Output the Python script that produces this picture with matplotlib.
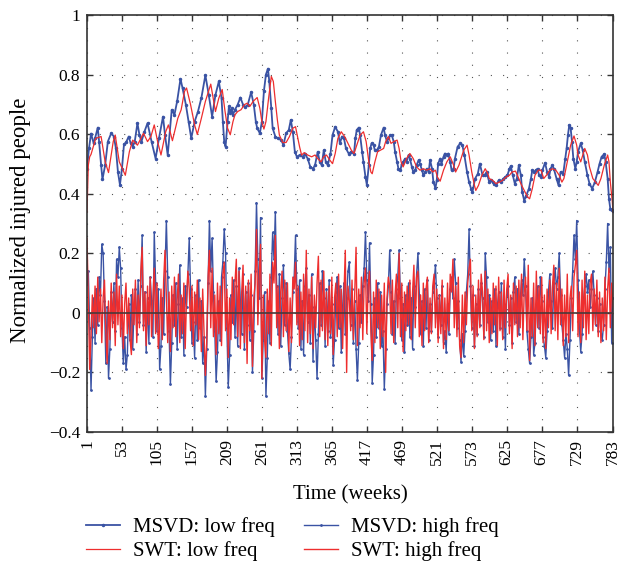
import matplotlib
matplotlib.use("Agg")
import matplotlib.pyplot as plt
import numpy as np

plt.rcParams['font.family'] = ['Liberation Serif', 'DejaVu Serif']

# low frequency components (week, value)
msvd_low_weeks = [1, 4, 7, 11, 13, 17, 19, 22, 24, 28, 32, 37, 41, 44, 47, 50, 53, 56, 59, 63, 66, 69, 72, 76, 79, 82, 86, 91, 97, 103, 108, 114, 117, 121, 127, 131, 135, 140, 143, 148, 152, 156, 161, 166, 171, 177, 182, 187, 192, 197,
                  201, 203, 205, 207, 210, 212, 214, 216, 218, 221, 225, 229, 233, 236, 240, 245, 249, 252, 254, 258, 261, 264, 267, 270, 272, 275, 277, 281, 285, 290, 293, 297, 301, 304, 307, 310, 313, 317, 322, 325, 329, 333, 337, 340, 344, 347, 350, 353, 356, 359, 363, 366, 370, 374, 377, 380, 383, 386, 390, 394,
                  398, 400, 402, 405, 407, 410, 412, 415, 417, 420, 422, 424, 427, 429, 432, 435, 438, 442, 444, 447, 449, 452, 454, 457, 459, 462, 464, 467, 469, 471, 474, 476, 479, 481, 484, 486, 489, 491, 494, 496, 499, 501, 504, 506, 509, 511, 514, 516, 519, 521, 523, 526, 528, 531, 533, 536, 538, 541, 543, 546, 548, 552, 556, 559, 562, 566, 569, 572, 574, 578, 582, 585, 589, 592, 595,
                  599, 601, 604, 606, 609, 613, 616, 620, 623, 626, 629, 631, 634, 637, 640, 643, 646, 648, 651, 654, 658, 661, 663, 666, 668, 671, 673, 676, 678, 682, 685, 688, 690, 693, 695, 699, 702, 705, 709, 712, 714, 716, 718, 720, 722, 724, 727, 729, 731, 735, 738, 741, 745, 748, 752, 756, 760, 763, 766, 770, 772, 775, 777, 779, 782, 783]
msvd_low = [0.484, 0.552, 0.602, 0.569, 0.586, 0.622, 0.575, 0.496, 0.448, 0.496, 0.575, 0.603, 0.592, 0.552, 0.473, 0.430, 0.484, 0.566, 0.572, 0.592, 0.569, 0.558, 0.575, 0.637, 0.597, 0.575, 0.606, 0.637, 0.575, 0.518, 0.586, 0.659, 0.597, 0.530, 0.682, 0.665, 0.710, 0.786, 0.755, 0.699, 0.642, 0.586, 0.642, 0.676, 0.721, 0.798, 0.732, 0.659, 0.732, 0.777,
            0.721, 0.642, 0.575, 0.558, 0.642, 0.693, 0.670, 0.687, 0.665, 0.682, 0.699, 0.723, 0.699, 0.690, 0.699, 0.741, 0.699, 0.642, 0.620, 0.603, 0.642, 0.744, 0.800, 0.820, 0.777, 0.687, 0.620, 0.592, 0.586, 0.580, 0.563, 0.603, 0.614, 0.648, 0.608, 0.541, 0.524, 0.530, 0.524, 0.535, 0.518, 0.490, 0.484, 0.496, 0.541, 0.507, 0.496, 0.546, 0.507, 0.496, 0.535, 0.597, 0.625, 0.608, 0.569, 0.592, 0.586, 0.552, 0.535, 0.541,
            0.535, 0.586, 0.614, 0.622, 0.597, 0.541, 0.507, 0.456, 0.430, 0.496, 0.552, 0.569, 0.563, 0.546, 0.546, 0.558, 0.597, 0.622, 0.597, 0.575, 0.586, 0.597, 0.597, 0.575, 0.541, 0.507, 0.484, 0.479, 0.501, 0.507, 0.518, 0.507, 0.530, 0.518, 0.490, 0.473, 0.479, 0.496, 0.513, 0.501, 0.479, 0.462, 0.473, 0.484, 0.473, 0.513, 0.484, 0.439, 0.419, 0.445, 0.501, 0.518, 0.501, 0.524, 0.535, 0.530, 0.535, 0.507, 0.479, 0.484, 0.518, 0.558, 0.569, 0.563, 0.530, 0.473, 0.439, 0.417, 0.406, 0.451, 0.467, 0.501, 0.462, 0.462, 0.473,
            0.439, 0.445, 0.439, 0.434, 0.428, 0.445, 0.439, 0.451, 0.456, 0.462, 0.484, 0.493, 0.462, 0.434, 0.451, 0.496, 0.462, 0.406, 0.377, 0.394, 0.417, 0.451, 0.479, 0.473, 0.479, 0.484, 0.462, 0.456, 0.479, 0.504, 0.473, 0.456, 0.484, 0.496, 0.484, 0.451, 0.428, 0.473, 0.467, 0.518, 0.552, 0.597, 0.631, 0.620, 0.575, 0.518, 0.484, 0.507, 0.541, 0.569, 0.546, 0.507, 0.462, 0.434, 0.417, 0.439, 0.473, 0.501, 0.524, 0.533, 0.507, 0.451, 0.383, 0.349, 0.347, 0.343]

swt_low_weeks = [1, 3, 5, 7, 14, 22, 28, 33, 40, 43, 49, 58, 64, 69, 76, 85, 91, 96, 101, 106, 111, 118, 122, 128, 136, 141, 146, 149, 155, 161, 165, 171, 177, 185, 192, 197, 202, 206, 210, 214,
                 218, 221, 225, 230, 235, 239, 243, 248, 254, 258, 261, 264, 267, 271, 275, 278, 281, 284, 287, 292, 297, 302, 307, 311, 314, 317, 320, 324, 329, 335, 340, 344, 349, 353, 357, 362, 366, 370, 374, 379, 384, 389, 394, 398,
                 402, 407, 412, 416, 420, 423, 425, 429, 433, 437, 442, 445, 449, 453, 457, 462, 465, 468, 471, 476, 481, 486, 491, 496, 501, 506, 511, 515, 519, 522, 526, 531, 536, 541, 546, 549, 554, 561, 566, 569, 573, 577, 579, 583, 588, 593, 597,
                 599, 604, 609, 614, 619, 624, 629, 633, 638, 642, 646, 651, 656, 659, 663, 667, 672, 676, 680, 684, 689, 693, 698, 703, 707, 710, 715, 720, 725, 729, 731, 735, 738, 741, 745, 748, 753, 761, 765, 770, 775, 777, 779, 782, 783]
swt_low = [0.338, 0.496, 0.524, 0.532, 0.586, 0.592, 0.507, 0.471, 0.575, 0.597, 0.507, 0.462, 0.541, 0.580, 0.563, 0.603, 0.575, 0.592, 0.631, 0.575, 0.530, 0.608, 0.631, 0.578, 0.653, 0.682, 0.744, 0.755, 0.699, 0.631, 0.599, 0.653, 0.710, 0.768, 0.676, 0.721, 0.750, 0.680, 0.620, 0.598,
           0.642, 0.665, 0.676, 0.682, 0.699, 0.704, 0.693, 0.710, 0.723, 0.687, 0.642, 0.617, 0.642, 0.721, 0.794, 0.777, 0.710, 0.648, 0.597, 0.572, 0.572, 0.592, 0.620, 0.625, 0.592, 0.558, 0.530, 0.538, 0.530, 0.524, 0.530, 0.518, 0.507, 0.524, 0.530, 0.513, 0.501, 0.535, 0.586, 0.608, 0.592, 0.569, 0.546, 0.535,
           0.563, 0.597, 0.608, 0.575, 0.507, 0.473, 0.467, 0.507, 0.541, 0.546, 0.552, 0.575, 0.592, 0.569, 0.575, 0.580, 0.552, 0.507, 0.490, 0.518, 0.535, 0.518, 0.490, 0.479, 0.484, 0.479, 0.484, 0.473, 0.479, 0.456, 0.442, 0.479, 0.507, 0.524, 0.496, 0.473, 0.496, 0.546, 0.563, 0.530, 0.473, 0.428, 0.411, 0.428, 0.462, 0.484, 0.467,
           0.451, 0.445, 0.434, 0.439, 0.445, 0.456, 0.462, 0.473, 0.476, 0.456, 0.434, 0.411, 0.389, 0.383, 0.417, 0.462, 0.479, 0.479, 0.451, 0.462, 0.479, 0.484, 0.479, 0.462, 0.439, 0.451, 0.507, 0.563, 0.594, 0.563, 0.530, 0.507, 0.530, 0.552, 0.530, 0.490, 0.451, 0.428, 0.451, 0.496, 0.530, 0.507, 0.439, 0.372, 0.338]

# high frequency components, one value every second week (weeks 1, 3, ..., 783)
msvd_high = [0.10, 0.14, -0.05, -0.26, -0.08, 0.05, -0.10, 0.08, -0.04, 0.12, 0.06, 0.23, 0.20, 0.04, -0.17, 0.02, -0.22, -0.12, 0.07, -0.03,
             0.10, -0.06, 0.18, 0.12, 0.22, 0.15, -0.05, -0.17, -0.08, -0.19, -0.14, 0.03, -0.09, 0.06, -0.12, 0.02, 0.08, -0.07, 0.11, -0.03,
             0.09, 0.26, -0.04, 0.07, -0.13, 0.05, -0.10, 0.12, 0.04, -0.08, 0.27, 0.10, -0.06, 0.08, -0.19, -0.11, 0.05, -0.07, 0.14, 0.31,
             0.12, -0.06, -0.24, -0.10, 0.06, -0.04, 0.10, -0.12, 0.03, 0.16, -0.08, 0.05, -0.14, 0.09, 0.02, 0.13, 0.25, 0.08, -0.10, -0.03,
             -0.15, 0.06, -0.09, 0.11, -0.05, 0.04, -0.17, -0.08, -0.28, -0.12, 0.10, 0.31, 0.14, 0.25, 0.07, -0.06, -0.23, -0.13, 0.04, -0.09,
             0.12, 0.17, 0.28, 0.20, -0.05, -0.25, -0.14, 0.06, -0.03, 0.11, -0.08, 0.09, -0.11, 0.15, 0.04, -0.07, 0.13, -0.12, 0.07, -0.04,
             0.10, -0.09, 0.06, -0.20, -0.06, 0.14, 0.37, 0.18, 0.05, 0.32, -0.22, -0.09, 0.07, -0.28, -0.15, 0.04, -0.10, 0.12, 0.27, 0.18,
             0.34, 0.09, -0.07, 0.13, -0.11, 0.05, 0.16, -0.04, 0.10, -0.06, -0.135, -0.19, -0.08, 0.07, 0.12, 0.26, 0.08, -0.05, 0.11, -0.12,
             0.04, -0.14, 0.09, 0.15, -0.03, 0.06, -0.10, 0.13, -0.16, 0.02, -0.09, -0.22, -0.07, 0.10, -0.04, 0.14, 0.05, -0.11, 0.08, -0.06,
             0.11, -0.08, 0.03, -0.175, -0.09, 0.07, 0.12, -0.05, 0.09, -0.13, 0.02, 0.10, -0.07, 0.05, 0.14, 0.17, -0.04, 0.08, -0.10, 0.04,
             -0.12, -0.225, -0.10, 0.06, -0.03, 0.09, 0.15, 0.27, 0.11, 0.04, 0.235, 0.03, -0.235, -0.14, 0.05, -0.08, 0.10, -0.05, 0.07, -0.11,
             -0.06, -0.255, -0.12, 0.03, 0.09, 0.21, 0.07, -0.07, 0.04, -0.10, 0.08, 0.12, 0.21, 0.05, -0.09, 0.03, -0.13, 0.06, -0.04, 0.10,
             -0.08, 0.05, -0.12, 0.09, 0.02, 0.13, 0.20, 0.06, -0.07, 0.04, -0.11, 0.08, -0.05, 0.11, -0.09, 0.03, -0.06, 0.07, 0.10, 0.16,
             0.05, -0.08, 0.06, -0.04, 0.09, -0.10, -0.06, -0.13, 0.03, -0.07, 0.08, 0.12, 0.05, 0.18, 0.10, -0.05, 0.04, -0.09, -0.165, -0.07,
             -0.145, -0.06, 0.07, 0.13, 0.28, 0.09, -0.05, 0.06, -0.11, 0.03, -0.07, 0.08, -0.04, 0.10, 0.05, -0.08, 0.20, 0.12, -0.03, 0.06,
             -0.09, 0.04, -0.06, 0.08, -0.11, 0.02, 0.07, -0.05, 0.10, -0.08, 0.03, -0.12, 0.06, 0.09, -0.04, 0.05, -0.10, 0.07, 0.12, -0.03,
             0.08, -0.07, 0.04, 0.11, 0.06, 0.18, 0.09, -0.06, -0.12, -0.17, -0.08, 0.05, -0.14, -0.10, 0.03, 0.09, -0.05, 0.12, 0.04, -0.08,
             -0.11, -0.15, -0.06, 0.07, 0.13, 0.04, -0.05, 0.10, 0.15, 0.08, 0.12, 0.20, 0.06, -0.04, -0.09, -0.15, -0.07, -0.12, -0.21, -0.09,
             0.05, 0.14, 0.26, 0.18, 0.31, 0.11, -0.05, -0.13, -0.07, 0.04, 0.09, 0.13, 0.07, 0.11, 0.02, 0.08, 0.14, 0.06, -0.04, 0.05,
             -0.06, 0.03, -0.07, -0.09, -0.04, 0.08, 0.17, 0.30, 0.14, 0.22, -0.10, 0.05]

swt_high = [0.25, 0.05, -0.19, -0.08, 0.06, -0.05, 0.09, -0.07, 0.12, -0.03, 0.08, -0.10, 0.05, 0.11, -0.06, -0.17, 0.04, -0.09, 0.10, -0.05,
            0.07, -0.11, 0.13, -0.04, 0.09, -0.08, 0.06, -0.12, 0.03, 0.10, -0.07, 0.05, -0.09, -0.14, 0.08, -0.04, 0.11, -0.10, 0.06, -0.05,
            0.14, 0.22, -0.06, 0.07, -0.11, 0.09, -0.04, 0.12, -0.08, 0.05, 0.15, -0.07, 0.10, -0.12, -0.05, 0.08, -0.09, 0.11, 0.21, 0.06,
            -0.10, 0.07, -0.13, 0.09, -0.05, 0.12, -0.08, 0.04, 0.13, -0.10, 0.06, -0.07, 0.10, -0.12, 0.05, 0.14, 0.08, -0.06, 0.09, -0.11,
            0.07, -0.04, 0.11, -0.09, 0.05, -0.13, 0.08, -0.06, -0.21, -0.10, 0.12, 0.21, -0.05, 0.15, -0.08, 0.06, -0.14, 0.10, -0.07, 0.09,
            -0.11, 0.13, 0.17, -0.06, 0.08, -0.15, 0.05, -0.09, 0.12, -0.04, 0.10, 0.18, -0.08, 0.14, -0.12, 0.07, 0.16, -0.10, 0.09, -0.17,
            0.11, -0.06, 0.13, -0.18, 0.05, 0.10, 0.28, -0.04, 0.12, 0.23, -0.22, 0.06, -0.09, -0.15, 0.08, -0.07, 0.13, -0.11, 0.17, 0.10,
            0.26, -0.05, 0.09, -0.12, 0.07, 0.14, -0.08, 0.11, -0.06, 0.10, -0.13, 0.05, -0.10, 0.12, 0.08, 0.17, -0.04, 0.09, -0.11, 0.07,
            -0.09, 0.13, -0.06, 0.21, -0.10, 0.08, -0.07, 0.12, -0.12, 0.06, -0.05, 0.10, 0.19, -0.08, 0.11, -0.06, 0.14, -0.09, 0.07, -0.11,
            0.09, -0.07, 0.12, -0.14, 0.05, 0.10, -0.08, 0.13, -0.05, 0.08, -0.12, 0.06, 0.21, -0.20, 0.09, 0.04, -0.06, 0.11, -0.09, 0.07,
            0.22, -0.11, 0.08, -0.05, 0.12, -0.09, 0.10, 0.15, -0.07, 0.09, 0.14, -0.06, -0.16, 0.07, -0.10, 0.11, -0.05, 0.08, -0.12, 0.06,
            -0.08, 0.10, -0.20, 0.05, 0.12, 0.09, -0.07, 0.11, -0.10, 0.06, 0.13, -0.05, 0.20, -0.08, 0.10, -0.13, 0.07, -0.06, 0.09, -0.04,
            0.11, -0.09, 0.07, 0.16, -0.05, 0.12, 0.14, -0.08, 0.06, -0.11, 0.10, -0.06, 0.08, 0.12, -0.10, 0.05, -0.07, 0.09, 0.13, -0.05,
            0.08, -0.10, 0.06, -0.07, 0.11, -0.12, 0.05, -0.09, 0.10, -0.06, 0.13, 0.07, 0.18, -0.05, 0.09, -0.08, 0.12, -0.11, -0.15, 0.06,
            -0.10, 0.07, -0.04, 0.10, 0.15, 0.18, -0.06, 0.09, -0.12, 0.06, -0.08, 0.11, -0.05, 0.13, 0.07, -0.09, 0.14, -0.06, 0.08, -0.10,
            0.05, -0.07, 0.10, -0.04, 0.09, -0.11, 0.12, -0.06, 0.07, -0.09, 0.11, -0.05, 0.08, 0.13, -0.07, 0.06, -0.12, 0.10, -0.04, 0.09,
            -0.08, 0.11, -0.05, 0.13, -0.09, 0.07, 0.12, -0.06, 0.16, -0.16, 0.05, -0.08, 0.10, -0.11, 0.14, -0.05, 0.09, -0.07, 0.12, -0.10,
            0.06, -0.12, 0.08, -0.05, 0.11, -0.07, 0.09, 0.16, -0.06, 0.10, -0.09, 0.15, -0.04, 0.08, -0.11, 0.06, -0.08, 0.13, -0.10, 0.05,
            0.09, -0.06, 0.12, 0.16, 0.21, -0.08, 0.07, -0.10, 0.11, -0.05, 0.14, -0.09, 0.06, -0.07, 0.10, 0.13, -0.06, 0.08, -0.04, 0.11,
            -0.08, 0.07, -0.10, 0.05, -0.06, 0.12, -0.09, 0.08, 0.15, -0.05, 0.10, 0.02]

xticks = [1, 53, 105, 157, 209, 261, 313, 365, 417, 469, 521, 573, 625, 677, 729, 783]
yticks = [-0.4, -0.2, 0, 0.2, 0.4, 0.6, 0.8, 1]
ytick_labels = ['\u22120.4', '\u22120.2', '0', '0.2', '0.4', '0.6', '0.8', '1']

blue = '#3a53a4'
red = '#ee2e2e'

fig = plt.figure(figsize=(6.24, 5.67), dpi=100)
ax = fig.add_axes([0.1394, 0.2381, 0.8430, 0.7354])

wk_mh = 1 + 2 * np.arange(len(msvd_high))
wk_sh = 1 + 2 * np.arange(len(swt_high))

ax.plot(msvd_low_weeks, msvd_low, color=blue, lw=1.3, marker='.', ms=3, label='MSVD: low freq')
ax.plot(swt_low_weeks, swt_low, color=red, lw=0.9, label='SWT: low freq')
ax.plot(wk_mh, msvd_high, color=blue, lw=1.0, marker='.', ms=2, label='MSVD: high freq')
ax.plot(wk_sh, swt_high, color=red, lw=1.0, label='SWT: high freq')
ax.axhline(0, color='#4a3a3a', lw=1.2, zorder=5)

ax.set_xlim(1, 783)
ax.set_ylim(-0.4, 1)
ax.set_xticks(xticks)
ax.set_xticklabels([str(t) for t in xticks], rotation=90, fontsize=12.5)
ax.set_yticks(yticks)
ax.set_yticklabels(ytick_labels, fontsize=12.5)
ax.tick_params(direction='in', top=True, right=True, length=4, width=1, color='#333333', pad=5)
ax.grid(True, color='#555555', lw=0.8, linestyle=(0, (1, 10)))
for s in ax.spines.values():
    s.set_color('#333333')
    s.set_linewidth(1.2)

ax.set_xlabel('Time (weeks)', fontsize=15)
ax.set_ylabel('Normalized injured people', fontsize=16.5)
ax.xaxis.set_label_coords(0.5, -0.127)
ax.yaxis.set_label_coords(-0.106, 0.508)

fig.legend(loc='upper left', bbox_to_anchor=(86 / 624, 1 - 517 / 567), ncol=2, frameon=False,
           fontsize=15, handlelength=1.63, handletextpad=0.63, columnspacing=1.4,
           labelspacing=0.2, numpoints=1, borderpad=0, borderaxespad=0)

fig.savefig('out.png', dpi=100, facecolor='w')
